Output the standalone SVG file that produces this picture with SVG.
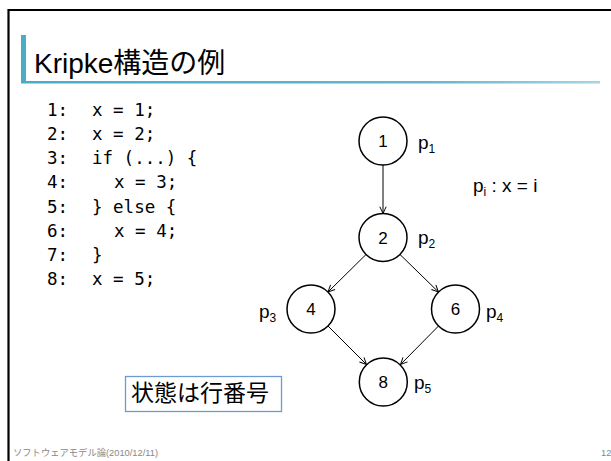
<svg xmlns="http://www.w3.org/2000/svg" width="611" height="461" viewBox="0 0 611 461">
<defs>
<linearGradient id="ul" x1="0" y1="0" x2="1" y2="0">
<stop offset="0" stop-color="#4bacc6"/>
<stop offset="0.7" stop-color="#62b6cd"/>
<stop offset="1" stop-color="#a6d5e3"/>
</linearGradient>
<marker id="arr" viewBox="0 0 10 10" refX="9.5" refY="5" markerWidth="8" markerHeight="8" orient="auto" markerUnits="userSpaceOnUse">
<path d="M1,1 L9.5,5 L1,9" fill="none" stroke="#000" stroke-width="1.2"/>
</marker>
</defs>
<style>
.code{font-family:"DejaVu Sans Mono","Liberation Mono",monospace;font-size:17.5px;fill:#000}
.node circle{fill:#fff;stroke:#000;stroke-width:1.5}
.num{font-family:"Liberation Sans",Arial,sans-serif;font-size:17px;text-anchor:middle;fill:#000}
.lbl{font-family:"Liberation Sans",Arial,sans-serif;font-size:19px;fill:#000}
.sub{font-size:12px}
.edge{stroke:#000;stroke-width:1;fill:none;marker-end:url(#arr)}
.foot{font-family:"Liberation Sans","Noto Sans CJK JP",sans-serif;font-size:9.3px;fill:#888}
</style>
<rect x="0" y="0" width="611" height="461" fill="#fff"/>
<path d="M8.5,461 L8.5,10 L611,10" fill="none" stroke="#000" stroke-width="2.2"/>
<rect x="21" y="35" width="5" height="47" fill="#4bacc6"/>
<rect x="21" y="81" width="579" height="2.5" fill="url(#ul)"/>
<text x="34" y="73" font-family="'Liberation Sans','Noto Sans CJK JP',sans-serif" font-size="28" fill="#000">Kripke構造の例</text>
<g id="code" class="code">
<text x="47" y="116">1:</text><text x="92" y="116">x = 1;</text>
<text x="47" y="140.1">2:</text><text x="92" y="140.1">x = 2;</text>
<text x="47" y="164.3">3:</text><text x="92" y="164.3">if (...) {</text>
<text x="47" y="188.4">4:</text><text x="114" y="188.4">x = 3;</text>
<text x="47" y="212.6">5:</text><text x="92" y="212.6">} else {</text>
<text x="47" y="236.7">6:</text><text x="114" y="236.7">x = 4;</text>
<text x="47" y="260.9">7:</text><text x="92" y="260.9">}</text>
<text x="47" y="285">8:</text><text x="92" y="285">x = 5;</text>
</g>
<g id="connectors">
<line class="edge" x1="383" y1="165" x2="383" y2="213.5"/>
<line class="edge" x1="366" y1="254.5" x2="328" y2="292"/>
<line class="edge" x1="400" y1="254.5" x2="438.5" y2="292"/>
<line class="edge" x1="328" y1="326" x2="366.5" y2="364.5"/>
<line class="edge" x1="438.5" y1="326" x2="400.5" y2="364.5"/>
</g>
<g id="n1" class="node"><circle cx="383" cy="141" r="24"/><text class="num" x="383" y="147">1</text><text class="lbl" x="418" y="149">p<tspan class="sub" dy="4">1</tspan></text></g>
<g id="n2" class="node"><circle cx="383" cy="237.5" r="24"/><text class="num" x="383" y="243.5">2</text><text class="lbl" x="418" y="244">p<tspan class="sub" dy="4">2</tspan></text></g>
<g id="n4" class="node"><circle cx="311" cy="309" r="24"/><text class="num" x="311" y="315">4</text><text class="lbl" x="259" y="318">p<tspan class="sub" dy="4">3</tspan></text></g>
<g id="n6" class="node"><circle cx="455.5" cy="309" r="24"/><text class="num" x="455.5" y="315">6</text><text class="lbl" x="486" y="318">p<tspan class="sub" dy="4">4</tspan></text></g>
<g id="n8" class="node"><circle cx="383.3" cy="382" r="24"/><text class="num" x="383.3" y="388">8</text><text class="lbl" x="414" y="389">p<tspan class="sub" dy="4">5</tspan></text></g>
<g id="legend"><text class="lbl" x="473" y="192">p<tspan class="sub" dy="4">i</tspan><tspan dy="-4"> : x = i</tspan></text></g>
<g id="note">
<rect x="125.5" y="376.5" width="156" height="35" fill="#fff" stroke="#6d9bd1" stroke-width="1.3"/>
<text x="131" y="401" font-family="'Noto Sans CJK JP',sans-serif" font-size="23" fill="#000">状態は行番号</text>
</g>
<text class="foot" x="13" y="456">ソフトウェアモデル論(2010/12/11)</text>
<text class="foot" x="601" y="456">12</text>
</svg>
